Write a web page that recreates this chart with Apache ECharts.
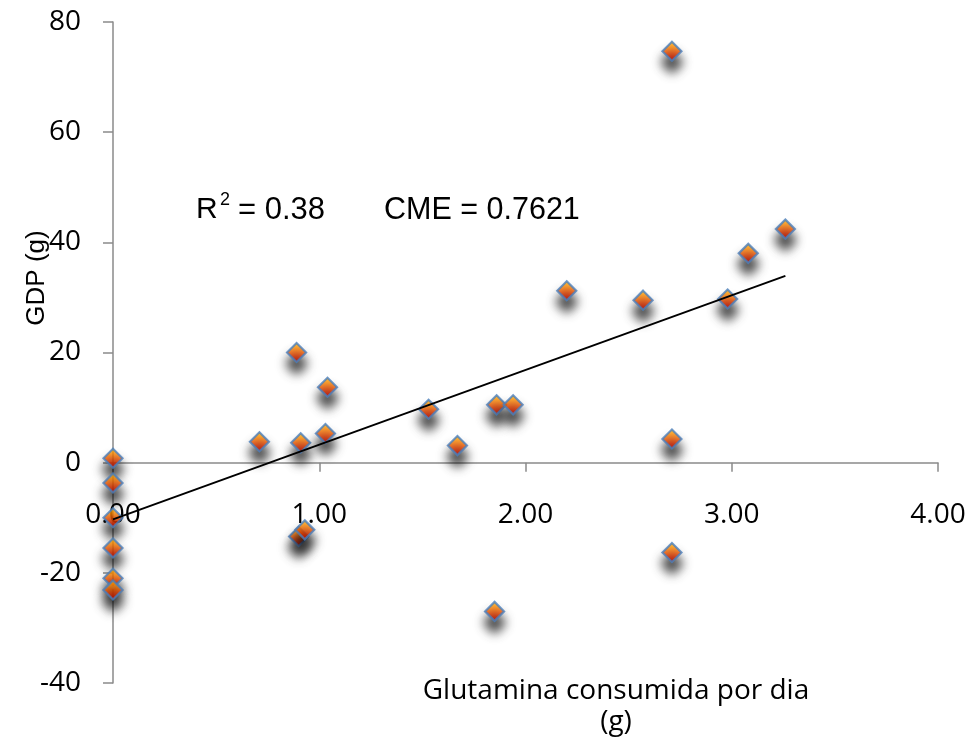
<!DOCTYPE html>
<html>
<head>
<meta charset="utf-8">
<script src="https://cdn.jsdelivr.net/npm/echarts@6/dist/echarts.min.js"></script>
<style>
html,body{margin:0;padding:0;background:#fff;}
#chart{width:972px;height:749px;}
</style>
</head>
<body>
<div id="chart"></div>
<script>
// Data
var glutamina = [0, 0, 0, 0, 0, 0, 0.71, 0.89, 0.91, 0.90, 0.93, 1.03, 1.04, 1.53, 1.67, 1.86, 1.94, 1.85, 2.20, 2.57, 2.71, 2.71, 2.71, 2.98, 3.08, 3.26];
var gdp       = [0.8, -3.7, -10.0, -15.5, -21.0, -23.1, 3.8, 20.0, 3.6, -13.4, -12.2, 5.3, 13.7, 9.7, 3.1, 10.5, 10.5, -27.0, 31.2, 29.5, 74.7, 4.3, -16.3, 29.7, 38.0, 42.4];
var trendX = [0, 3.26];
var trendY = [-10.3, 33.9];
var xTicks = [0, 1, 2, 3, 4];
var yTicks = [-40, -20, 0, 20, 40, 60, 80];
var r2Text = 'R';
var r2Sup = '2';
var r2Value = '= 0.38';
var cmeText = 'CME = 0.7621';
var xTitle = 'Glutamina consumida por dia\n(g)';
var yTitle = 'GDP (g)';

var points = glutamina.map(function (x, i) { return [x, gdp[i]]; });
var trend = trendX.map(function (x, i) { return [x, trendY[i]]; });

var gridTop = 22, gridHeight = 661;
var yMin = yTicks[0], yMax = yTicks[yTicks.length - 1];
// place the x axis (line, ticks and labels) where y = 0 crosses
var xAxisOffset = -gridHeight * (0 - yMin) / (yMax - yMin);

var chart = echarts.init(document.getElementById('chart'), null, {renderer: 'canvas'});
var axisColor = '#8a8a8a';
chart.setOption({
  animation: false,
  backgroundColor: '#ffffff',
  grid: {left: 113, top: gridTop, width: 825, height: gridHeight, containLabel: false},
  xAxis: {
    type: 'value',
    position: 'bottom',
    offset: xAxisOffset,
    min: xTicks[0], max: xTicks[xTicks.length - 1], interval: 1,
    axisLine: {onZero: false, lineStyle: {color: axisColor, width: 1.5}},
    axisTick: {show: true, inside: false, length: 9, lineStyle: {color: axisColor, width: 1.5}},
    splitLine: {show: false},
    axisLabel: {
      margin: 38, color: '#000', fontFamily: 'Open Sans', fontSize: 28,
      formatter: function (v) { return v.toFixed(2); }
    }
  },
  yAxis: {
    type: 'value',
    min: yMin, max: yMax, interval: 20,
    axisLine: {show: true, onZero: false, lineStyle: {color: axisColor, width: 1.5}},
    axisTick: {show: true, inside: false, length: 10, lineStyle: {color: axisColor, width: 1.5}},
    splitLine: {show: false},
    axisLabel: {margin: 32, color: '#000', fontFamily: 'Open Sans', fontSize: 28}
  },
  series: [
    {
      type: 'scatter',
      data: points,
      symbol: 'diamond',
      symbolSize: 19,
      z: 2,
      itemStyle: {
        color: new echarts.graphic.LinearGradient(0, 0, 0, 1, [
          {offset: 0, color: '#ffc000'},
          {offset: 1, color: '#ff0000'}
        ]),
        borderColor: '#4a7ebb',
        borderWidth: 2.2,
        shadowColor: '#000000',
        shadowBlur: 11,
        shadowOffsetY: 11
      },
      emphasis: {disabled: true}
    },
    {
      type: 'line',
      data: trend,
      showSymbol: false,
      symbol: 'none',
      z: 3,
      lineStyle: {color: '#000', width: 2},
      emphasis: {disabled: true}
    }
  ],
  graphic: [
    {type: 'text', left: 196, top: 195, style: {text: r2Text, font: '30px "Liberation Sans"', fill: '#000'}},
    {type: 'text', left: 220, top: 191, style: {text: r2Sup, font: '18px "Liberation Sans"', fill: '#000'}},
    {type: 'text', left: 238, top: 195, style: {text: r2Value, font: '31px "Liberation Sans"', fill: '#000'}},
    {type: 'text', left: 384, top: 195, style: {text: cmeText, font: '30.5px "Liberation Sans"', fill: '#000'}},
    {type: 'text', x: 616, y: 707, style: {text: xTitle, font: '28px "Open Sans"', fill: '#000', align: 'center', verticalAlign: 'middle', lineHeight: 31}},
    {type: 'text', x: 37, y: 278, rotation: Math.PI / 2, style: {text: yTitle, font: '26px "Liberation Sans"', fill: '#000', align: 'center', verticalAlign: 'middle'}}
  ]
});
</script>
</body>
</html>
